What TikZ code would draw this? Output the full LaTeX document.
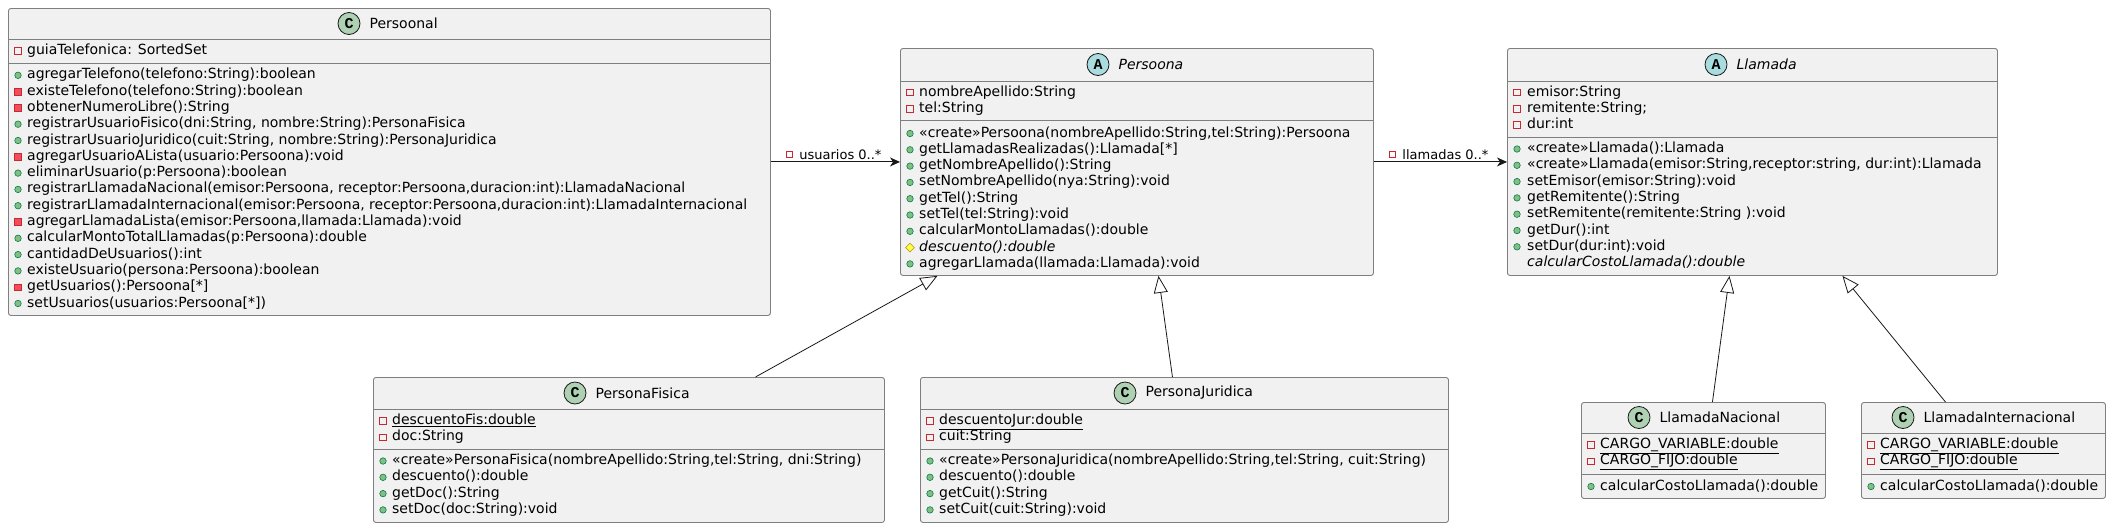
\documentclass[tikz,border=0pt]{standalone}
\usepackage{fontspec}
\setmainfont{DejaVu Sans}
\newfontfamily\iconfont{Liberation Mono}
\usetikzlibrary{arrows.meta,shapes.geometric,positioning}

\definecolor{boxfill}{HTML}{F1F1F1}
\definecolor{boxline}{HTML}{7F7F7F}
\definecolor{edgecol}{HTML}{181818}
\definecolor{classC}{HTML}{ADD1B2}
\definecolor{classA}{HTML}{A9DCDF}
\definecolor{privcol}{HTML}{C82930}
\definecolor{privfill}{HTML}{F24D5C}
\definecolor{pubcol}{HTML}{038048}
\definecolor{pubfill}{HTML}{84BE84}
\definecolor{protcol}{HTML}{B38D22}
\definecolor{protfill}{HTML}{FFFF44}

\tikzset{
  classbox/.style={draw=boxline, fill=boxfill, line width=0.9pt, rounded corners=2.5pt, anchor=north west, inner sep=0pt},
  sepline/.style={draw=boxline, line width=0.9pt},
  hdrcirc/.style={circle, draw=edgecol, line width=0.8pt, minimum size=22pt, inner sep=0pt, font=\iconfont\bfseries\fontsize{15}{15}\selectfont},
  clsname/.style={inner sep=0pt, font=\fontsize{14}{16}\selectfont},
  member/.style={anchor=west, inner sep=0pt, text height=10pt, text depth=3pt, font=\fontsize{14}{16}\selectfont},
  icon/.style={#1},
  pubm/.style={circle, draw=pubcol, fill=pubfill, line width=0.6pt, minimum size=6.5pt, inner sep=0pt},
  privm/.style={rectangle, draw=privcol, fill=privfill, line width=0.6pt, minimum size=6.5pt, inner sep=0pt},
  priva/.style={rectangle, draw=privcol, fill=none, line width=0.8pt, minimum size=6.5pt, inner sep=0pt},
  protm/.style={diamond, draw=protcol, fill=protfill, line width=0.6pt, minimum size=9pt, inner sep=0pt},
  assoc/.style={draw=edgecol, line width=1pt, -{Stealth[length=10pt, width=9pt, inset=3pt]}},
  inherit/.style={draw=edgecol, line width=0.8pt, -{Triangle[length=17pt, width=14pt, fill=white]}},
  assoclbl/.style={above, inner sep=2pt, xshift=5pt, font=\fontsize{13}{15}\selectfont}
}

\begin{document}
\begin{tikzpicture}[x=1pt, y=-1pt]
    \useasboundingbox (0,0) rectangle (2111,528);

    % Persoonal
    \node[classbox, minimum width=762pt, minimum height=307pt] (persoonal) at (8,8) {};
    \node[hdrcirc, fill=classC] (persoonal-c) at (349,23.5) {C};
    \node[clsname, right=9pt of persoonal-c] (persoonal-n) {Persoonal};
    \draw[sepline] (persoonal.west |- 0,39) -- (persoonal.east |- 0,39);
    \draw[sepline] (persoonal.west |- 0,63) -- (persoonal.east |- 0,63);
    \node[priva] (pl-a0) at (18,51) {};
    \node[member] (pl-t0) at (27,51) {guiaTelefonica: SortedSet};
    \foreach \vis/\txt [count=\i from 0] in {
        pubm/{agregarTelefono(telefono:String):boolean},
        privm/{existeTelefono(telefono:String):boolean},
        privm/{obtenerNumeroLibre():String},
        pubm/{registrarUsuarioFisico(dni:String, nombre:String):PersonaFisica},
        pubm/{registrarUsuarioJuridico(cuit:String, nombre:String):PersonaJuridica},
        privm/{agregarUsuarioALista(usuario:Persoona):void},
        pubm/{eliminarUsuario(p:Persoona):boolean},
        pubm/{registrarLlamadaNacional(emisor:Persoona, receptor:Persoona,duracion:int):LlamadaNacional},
        pubm/{registrarLlamadaInternacional(emisor:Persoona, receptor:Persoona,duracion:int):LlamadaInternacional},
        privm/{agregarLlamadaLista(emisor:Persoona,llamada:Llamada):void},
        pubm/{calcularMontoTotalLlamadas(p:Persoona):double},
        pubm/{cantidadDeUsuarios():int},
        pubm/{existeUsuario(persona:Persoona):boolean},
        privm/{getUsuarios():Persoona[*]},
        pubm/{setUsuarios(usuarios:Persoona[*])}}{
        \node[icon/.expanded=\vis] (pl-i\i) at (18,{75.3+16.3*\i}) {};
        \node[member] (pl-m\i) at (27,{75.3+16.3*\i}) {\txt};
    }

    % Persoona (abstract)
    \node[classbox, minimum width=473pt, minimum height=227pt] (persoona) at (900,48) {};
    \node[hdrcirc, fill=classA] (persoona-c) at (1098,64.5) {A};
    \node[clsname, font=\itshape\fontsize{14}{16}\selectfont, right=9pt of persoona-c] (persoona-n) {Persoona};
    \draw[sepline] (persoona.west |- 0,81) -- (persoona.east |- 0,81);
    \draw[sepline] (persoona.west |- 0,120) -- (persoona.east |- 0,120);
    \foreach \txt [count=\i from 0] in {nombreApellido:String, tel:String}{
        \node[priva] (pa-a\i) at (910,{92.5+16.3*\i}) {};
        \node[member] (pa-t\i) at (919,{92.5+16.3*\i}) {\txt};
    }
    \foreach \vis/\txt [count=\i from 0] in {
        pubm/{«create»Persoona(nombreApellido:String,tel:String):Persoona},
        pubm/{getLlamadasRealizadas():Llamada[*]},
        pubm/{getNombreApellido():String},
        pubm/{setNombreApellido(nya:String):void},
        pubm/{getTel():String},
        pubm/{setTel(tel:String):void},
        pubm/{calcularMontoLlamadas():double},
        protm/{\itshape descuento():double},
        pubm/{agregarLlamada(llamada:Llamada):void}}{
        \node[icon/.expanded=\vis] (pa-i\i) at (910,{133.5+16.3*\i}) {};
        \node[member] (pa-m\i) at (919,{133.5+16.3*\i}) {\txt};
    }

    % Llamada (abstract)
    \node[classbox, minimum width=490pt, minimum height=227pt] (llamada) at (1507,48) {};
    \node[hdrcirc, fill=classA] (llamada-c) at (1716,64.5) {A};
    \node[clsname, font=\itshape\fontsize{14}{16}\selectfont, right=9pt of llamada-c] (llamada-n) {Llamada};
    \draw[sepline] (llamada.west |- 0,81) -- (llamada.east |- 0,81);
    \draw[sepline] (llamada.west |- 0,137) -- (llamada.east |- 0,137);
    \foreach \txt [count=\i from 0] in {emisor:String, remitente:String;, dur:int}{
        \node[priva] (ll-a\i) at (1517,{92.5+16.3*\i}) {};
        \node[member] (ll-t\i) at (1527,{92.5+16.3*\i}) {\txt};
    }
    \foreach \txt [count=\i from 0] in {
        {«create»Llamada():Llamada},
        {«create»Llamada(emisor:String,receptor:string, dur:int):Llamada},
        {setEmisor(emisor:String):void},
        {getRemitente():String},
        {setRemitente(remitente:String ):void},
        {getDur():int},
        {setDur(dur:int):void}}{
        \node[pubm] (ll-i\i) at (1517,{149+16.3*\i}) {};
        \node[member] (ll-m\i) at (1527,{149+16.3*\i}) {\txt};
    }
    \node[member, font=\itshape\fontsize{14}{16}\selectfont] (ll-m7) at (1527,263.1) {calcularCostoLlamada():double};

    % PersonaFisica
    \node[classbox, minimum width=511pt, minimum height=145pt] (pfisica) at (373,377) {};
    \node[hdrcirc, fill=classC] (pfisica-c) at (575,393) {C};
    \node[clsname, right=9pt of pfisica-c] (pfisica-n) {PersonaFisica};
    \draw[sepline] (pfisica.west |- 0,409) -- (pfisica.east |- 0,409);
    \draw[sepline] (pfisica.west |- 0,449) -- (pfisica.east |- 0,449);
    \foreach \txt [count=\i from 0] in {\underline{descuentoFis:double}, doc:String}{
        \node[priva] (pf-a\i) at (383,{421+16.3*\i}) {};
        \node[member] (pf-t\i) at (392,{421+16.3*\i}) {\txt};
    }
    \foreach \txt [count=\i from 0] in {
        {«create»PersonaFisica(nombreApellido:String,tel:String, dni:String)},
        {descuento():double},
        {getDoc():String},
        {setDoc(doc:String):void}}{
        \node[pubm] (pf-i\i) at (383,{461+16.3*\i}) {};
        \node[member] (pf-m\i) at (392,{461+16.3*\i}) {\txt};
    }

    % PersonaJuridica
    \node[classbox, minimum width=528pt, minimum height=145pt] (pjuridica) at (920,377) {};
    \node[hdrcirc, fill=classC] (pjuridica-c) at (1125,393) {C};
    \node[clsname, right=9pt of pjuridica-c] (pjuridica-n) {PersonaJuridica};
    \draw[sepline] (pjuridica.west |- 0,409) -- (pjuridica.east |- 0,409);
    \draw[sepline] (pjuridica.west |- 0,449) -- (pjuridica.east |- 0,449);
    \foreach \txt [count=\i from 0] in {\underline{descuentoJur:double}, cuit:String}{
        \node[priva] (pj-a\i) at (930,{421+16.3*\i}) {};
        \node[member] (pj-t\i) at (939,{421+16.3*\i}) {\txt};
    }
    \foreach \txt [count=\i from 0] in {
        {«create»PersonaJuridica(nombreApellido:String,tel:String, cuit:String)},
        {descuento():double},
        {getCuit():String},
        {setCuit(cuit:String):void}}{
        \node[pubm] (pj-i\i) at (930,{461+16.3*\i}) {};
        \node[member] (pj-m\i) at (939,{461+16.3*\i}) {\txt};
    }

    % LlamadaNacional
    \node[classbox, minimum width=244pt, minimum height=96pt] (lnac) at (1581,402) {};
    \node[hdrcirc, fill=classC] (lnac-c) at (1639,417.5) {C};
    \node[clsname, right=9pt of lnac-c] (lnac-n) {LlamadaNacional};
    \draw[sepline] (lnac.west |- 0,433) -- (lnac.east |- 0,433);
    \draw[sepline] (lnac.west |- 0,474) -- (lnac.east |- 0,474);
    \foreach \txt [count=\i from 0] in {\underline{CARGO\_VARIABLE:double}, \underline{CARGO\_FIJO:double}}{
        \node[priva] (ln-a\i) at (1591,{445+16.3*\i}) {};
        \node[member] (ln-t\i) at (1600,{445+16.3*\i}) {\txt};
    }
    \node[pubm] (ln-i0) at (1591,486.5) {};
    \node[member] (ln-m0) at (1600,486.5) {calcularCostoLlamada():double};

    % LlamadaInternacional
    \node[classbox, minimum width=244pt, minimum height=96pt] (lint) at (1861,402) {};
    \node[hdrcirc, fill=classC] (lint-c) at (1903,417.5) {C};
    \node[clsname, right=9pt of lint-c] (lint-n) {LlamadaInternacional};
    \draw[sepline] (lint.west |- 0,433) -- (lint.east |- 0,433);
    \draw[sepline] (lint.west |- 0,474) -- (lint.east |- 0,474);
    \foreach \txt [count=\i from 0] in {\underline{CARGO\_VARIABLE:double}, \underline{CARGO\_FIJO:double}}{
        \node[priva] (li-a\i) at (1871,{445+16.3*\i}) {};
        \node[member] (li-t\i) at (1880,{445+16.3*\i}) {\txt};
    }
    \node[pubm] (li-i0) at (1871,486.5) {};
    \node[member] (li-m0) at (1880,486.5) {calcularCostoLlamada():double};

    % Associations
    \draw[assoc] (persoonal) -- node[assoclbl] (usr-lbl) {usuarios 0..*} (persoona);
    \node[priva, left=4pt of usr-lbl] (usr-vis) {};
    \draw[assoc] (persoona) -- node[assoclbl] (llm-lbl) {llamadas 0..*} (llamada);
    \node[priva, left=4pt of llm-lbl] (llm-vis) {};

    % Generalizations
    \draw[inherit] ([xshift=126.5pt]pfisica.north) -- ([xshift=-199.5pt]persoona.south);
    \draw[inherit] ([xshift=-12pt]pjuridica.north) -- ([xshift=21.5pt]persoona.south);
    \draw[inherit] ([xshift=9pt]lnac.north) -- ([xshift=-23pt]llamada.south);
    \draw[inherit] ([xshift=-38pt]lint.north) -- ([xshift=90pt]llamada.south);
\end{tikzpicture}
\end{document}
